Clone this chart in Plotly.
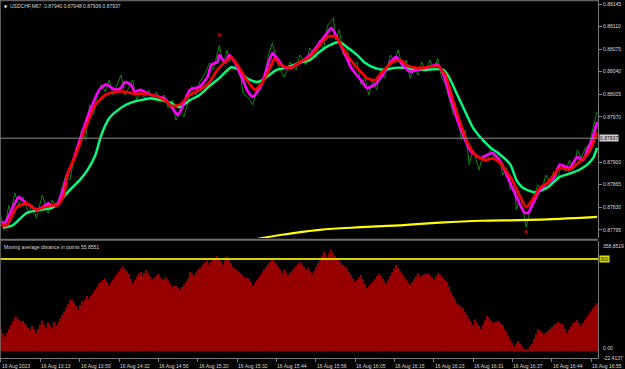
import plotly.graph_objects as go

# ---------------- data ----------------
header_text = "USDCHF,M67  0.87940 0.87948 0.87936 0.87937"
sub_title = "Moving average distance in points 55.8551"

time_labels = ["16 Aug 2023", "16 Aug 13:13", "16 Aug 13:59", "16 Aug 14:32", "16 Aug 14:56",
               "16 Aug 15:20", "16 Aug 15:32", "16 Aug 15:44", "16 Aug 15:56", "16 Aug 16:05",
               "16 Aug 16:15", "16 Aug 16:23", "16 Aug 16:31", "16 Aug 16:37", "16 Aug 16:44",
               "16 Aug 16:55"]
label_bars = [0, 20, 40, 60, 80, 100, 120, 140, 160, 180, 200, 220, 240, 260, 280, 300]

price_ticks = [0.88145, 0.88110, 0.88075, 0.88040, 0.88005, 0.87970,
               0.87900, 0.87865, 0.87830, 0.87795]
last_price = 0.87937
level_value = 300
sub_max = 358.8519
sub_min = -22.4137

close_idx = [0, 1, 2, 4, 5, 7, 9, 11, 14, 16, 18, 21, 24, 26, 28, 31, 33, 35, 37, 39, 41, 43, 45, 47,
             49, 51, 53, 55, 57, 59, 61, 63, 65, 67, 69, 71, 73, 75, 77, 79, 81, 83, 85, 87, 89, 91,
             93, 95, 97, 99, 101, 104, 106, 108, 110, 111, 113, 115, 116, 118, 120, 122, 123, 126,
             128, 130, 132, 134, 136, 138, 140, 142, 144, 147, 150, 152, 155, 157, 160, 162, 164,
             166, 169, 170, 172, 174, 176, 178, 181, 183, 185, 187, 189, 191, 193, 195, 198, 200,
             202, 204, 206, 208, 210, 212, 214, 216, 218, 220, 222, 224, 226, 228, 230, 232, 234,
             236, 238, 240, 243, 245, 247, 249, 251, 253, 255, 257, 259, 261, 262, 264, 266, 267,
             269, 270, 273, 275, 277, 279, 281, 283, 285, 287, 289, 291, 293, 295, 297, 299, 301, 303]
close_px = [0.87815, 0.87804, 0.87801, 0.87833, 0.87822, 0.87852, 0.87833, 0.87846, 0.87822, 0.87833,
            0.87813, 0.87849, 0.87821, 0.87841, 0.87829, 0.87860, 0.87880, 0.87872, 0.87903, 0.87919,
            0.87950, 0.87934, 0.87989, 0.87973, 0.88004, 0.88020, 0.88009, 0.88027, 0.88004, 0.88020,
            0.88035, 0.88004, 0.88015, 0.88027, 0.87996, 0.88009, 0.87999, 0.88012, 0.87996, 0.88009,
            0.87996, 0.88004, 0.87984, 0.87996, 0.87965, 0.87978, 0.87970, 0.87996, 0.88017, 0.88004,
            0.88024, 0.88038, 0.88054, 0.88043, 0.88069, 0.88081, 0.88051, 0.88074, 0.88055, 0.88061,
            0.88043, 0.88030, 0.88007, 0.87999, 0.87989, 0.88012, 0.88023, 0.88035, 0.88066, 0.88085,
            0.88058, 0.88043, 0.88032, 0.88055, 0.88043, 0.88066, 0.88051, 0.88077, 0.88061, 0.88089,
            0.88074, 0.88112, 0.88123, 0.88089, 0.88105, 0.88066, 0.88077, 0.88043, 0.88055, 0.88020,
            0.88030, 0.88004, 0.88027, 0.88012, 0.88043, 0.88030, 0.88066, 0.88055, 0.88074, 0.88046,
            0.88058, 0.88030, 0.88046, 0.88035, 0.88055, 0.88040, 0.88058, 0.88043, 0.88061, 0.88030,
            0.88020, 0.87996, 0.87973, 0.87981, 0.87934, 0.87950, 0.87896, 0.87919, 0.87888, 0.87911,
            0.87900, 0.87922, 0.87903, 0.87916, 0.87880, 0.87891, 0.87857, 0.87865, 0.87826, 0.87849,
            0.87818, 0.87799, 0.87826, 0.87841, 0.87865, 0.87857, 0.87880, 0.87869, 0.87885, 0.87875,
            0.87896, 0.87885, 0.87903, 0.87888, 0.87919, 0.87906, 0.87922, 0.87927, 0.87953, 0.87978]

fast_idx = [0, 2, 6, 9, 11, 13, 16, 18, 21, 24, 26, 29, 31, 34, 36, 40, 45, 50, 53, 55, 58, 61, 63, 66,
            68, 71, 74, 78, 83, 87, 90, 92, 96, 101, 105, 107, 110, 111, 114, 116, 119, 123, 125, 128,
            132, 136, 138, 141, 144, 147, 152, 157, 161, 165, 168, 171, 175, 178, 183, 186, 190, 194,
            198, 201, 204, 208, 212, 216, 219, 222, 225, 228, 232, 236, 239, 244, 247, 250, 254, 257,
            261, 264, 266, 268, 270, 274, 278, 281, 284, 289, 293, 296, 298, 300, 303]
fast_ma = [0.87807, 0.87806, 0.87830, 0.87846, 0.87841, 0.87836, 0.87830, 0.87826, 0.87830, 0.87836,
           0.87833, 0.87836, 0.87852, 0.87883, 0.87896, 0.87934, 0.87978, 0.88012, 0.88020, 0.88018,
           0.88012, 0.88015, 0.88024, 0.88020, 0.88009, 0.88012, 0.88007, 0.88003, 0.87999, 0.87984,
           0.87973, 0.87984, 0.88012, 0.88017, 0.88032, 0.88051, 0.88055, 0.88066, 0.88054, 0.88066,
           0.88054, 0.88027, 0.88012, 0.88001, 0.88017, 0.88054, 0.88069, 0.88058, 0.88047, 0.88046,
           0.88054, 0.88066, 0.88081, 0.88097, 0.88108, 0.88092, 0.88066, 0.88046, 0.88027, 0.88015,
           0.88020, 0.88035, 0.88055, 0.88063, 0.88051, 0.88040, 0.88043, 0.88046, 0.88049, 0.88051,
           0.88035, 0.88004, 0.87965, 0.87934, 0.87916, 0.87906, 0.87911, 0.87914, 0.87900, 0.87880,
           0.87853, 0.87833, 0.87822, 0.87821, 0.87833, 0.87857, 0.87868, 0.87875, 0.87896, 0.87891,
           0.87908, 0.87903, 0.87919, 0.87931, 0.87962]

mid_idx = [0, 3, 8, 13, 18, 21, 26, 29, 32, 34, 38, 43, 48, 53, 58, 63, 68, 73, 78, 83, 87, 91, 96, 101,
           106, 110, 115, 117, 121, 125, 129, 132, 137, 139, 142, 145, 148, 152, 157, 162, 166, 170,
           173, 177, 182, 186, 190, 194, 199, 203, 207, 212, 217, 222, 226, 229, 233, 237, 241, 246,
           250, 254, 257, 260, 264, 267, 270, 274, 278, 284, 289, 294, 299, 302, 303]
mid_ma = [0.87802, 0.87802, 0.87830, 0.87836, 0.87826, 0.87829, 0.87833, 0.87833, 0.87849, 0.87883,
          0.87911, 0.87953, 0.87989, 0.88004, 0.88009, 0.88009, 0.88006, 0.88006, 0.88003, 0.87996,
          0.87987, 0.87989, 0.88004, 0.88012, 0.88024, 0.88043, 0.88058, 0.88063, 0.88047, 0.88027,
          0.88012, 0.88020, 0.88047, 0.88061, 0.88051, 0.88047, 0.88047, 0.88055, 0.88063, 0.88081,
          0.88094, 0.88095, 0.88081, 0.88061, 0.88043, 0.88030, 0.88027, 0.88040, 0.88055, 0.88058,
          0.88049, 0.88046, 0.88047, 0.88049, 0.88035, 0.88004, 0.87965, 0.87931, 0.87911, 0.87903,
          0.87906, 0.87898, 0.87885, 0.87872, 0.87846, 0.87830, 0.87841, 0.87860, 0.87868, 0.87891,
          0.87888, 0.87900, 0.87916, 0.87937, 0.87946]

slow_idx = [1, 6, 13, 20, 26, 29, 35, 40, 44, 48, 51, 55, 61, 66, 71, 76, 81, 86, 91, 96, 101, 106,
            111, 117, 121, 125, 130, 133, 140, 145, 152, 157, 162, 167, 172, 176, 181, 185, 190, 195,
            200, 205, 211, 216, 221, 225, 228, 232, 236, 240, 245, 249, 254, 259, 262, 265, 269, 272,
            278, 284, 289, 294, 298, 301, 303]
slow_ma = [0.87798, 0.87802, 0.87821, 0.87826, 0.87829, 0.87836, 0.87857, 0.87872, 0.87888, 0.87911,
           0.87942, 0.87968, 0.87984, 0.87992, 0.87996, 0.87999, 0.87996, 0.87992, 0.87985, 0.87996,
           0.88004, 0.88018, 0.88030, 0.88047, 0.88043, 0.88030, 0.88024, 0.88027, 0.88043, 0.88046,
           0.88054, 0.88058, 0.88071, 0.88081, 0.88086, 0.88078, 0.88066, 0.88054, 0.88046, 0.88043,
           0.88046, 0.88046, 0.88043, 0.88043, 0.88044, 0.88043, 0.88030, 0.88004, 0.87978, 0.87953,
           0.87934, 0.87922, 0.87911, 0.87896, 0.87872, 0.87861, 0.87855, 0.87853, 0.87861, 0.87877,
           0.87882, 0.87888, 0.87896, 0.87906, 0.87922]

long_idx = [122, 127, 142, 162, 183, 203, 223, 244, 264, 284, 303]
long_ma = [0.87776, 0.87779, 0.87787, 0.87795, 0.87799, 0.87802, 0.87806, 0.87809, 0.87810, 0.87812,
           0.87815]

fractal_idx = [111, 267]
fractal_px = [0.88097, 0.87792]

hist_values = [69, 58, 47, 60, 72, 85, 98, 112, 110, 103, 97, 99, 91, 84, 76, 69, 82, 71, 60, 73,
               86, 99, 87, 75, 93, 84, 75, 95, 82, 94, 106, 118, 130, 142, 154, 166, 168, 157, 146, 136,
               150, 163, 155, 168, 180, 170, 180, 189, 199, 208, 221, 226, 232, 237, 226, 215, 224, 233, 242, 251,
               260, 269, 277, 268, 260, 251, 236, 221, 232, 243, 253, 259, 245, 255, 264, 253, 243, 232, 238, 245,
               251, 241, 232, 236, 240, 230, 220, 210, 212, 213, 206, 199, 209, 218, 228, 237, 259, 252, 245, 256,
               266, 272, 278, 284, 290, 295, 282, 290, 297, 304, 310, 300, 291, 282, 295, 308, 297, 286, 275, 270,
               264, 259, 253, 246, 240, 238, 237, 226, 215, 224, 232, 241, 250, 258, 267, 275, 283, 291, 299, 292,
               286, 275, 265, 254, 264, 256, 248, 256, 263, 271, 278, 286, 291, 282, 274, 265, 270, 260, 251, 263,
               275, 287, 299, 312, 324, 316, 308, 319, 330, 321, 312, 303, 296, 288, 281, 276, 270, 259, 248, 237,
               226, 233, 241, 248, 234, 219, 205, 212, 219, 226, 235, 244, 253, 245, 237, 229, 221, 233, 245, 257,
               269, 281, 271, 261, 252, 242, 232, 224, 216, 225, 235, 244, 253, 243, 247, 250, 252, 253, 246, 239,
               232, 244, 255, 249, 243, 238, 232, 226, 210, 194, 181, 169, 156, 151, 145, 140, 129, 118, 107, 96,
               85, 104, 93, 83, 72, 86, 101, 115, 108, 100, 93, 94, 96, 97, 91, 85, 73, 62, 50, 38,
               27, 15, 24, 33, 24, 15, 8, 2, 8, 17, 25, 41, 56, 72, 66, 61, 55, 61, 66, 72,
               79, 85, 90, 95, 92, 88, 85, 73, 60, 70, 80, 91, 96, 101, 92, 82, 92, 102, 112, 121,
               130, 139, 147, 156]

# ---------------- figure ----------------
FONT = "Liberation Sans"
TXT = "#D8D8D8"
GRID = "#7A7A7A"
n_bars = len(hist_values)

fig = go.Figure()

fig.add_trace(go.Bar(x=list(range(n_bars)), y=hist_values, yaxis="y2", xaxis="x",
                     marker=dict(color="#960000", line=dict(width=0)), hoverinfo="skip"))

fig.add_trace(go.Scatter(x=close_idx, y=close_px, mode="lines", yaxis="y",
                         line=dict(color="#0A8A0A", width=1)))
fig.add_trace(go.Scatter(x=slow_idx, y=slow_ma, mode="lines", yaxis="y",
                         line=dict(color="#00FF7F", width=2.4, shape="spline", smoothing=0.6)))
fig.add_trace(go.Scatter(x=fast_idx, y=fast_ma, mode="lines", yaxis="y",
                         line=dict(color="#FF00FF", width=2.6, shape="spline", smoothing=0.5)))
fig.add_trace(go.Scatter(x=mid_idx, y=mid_ma, mode="lines", yaxis="y",
                         line=dict(color="#FF0000", width=2.6, shape="spline", smoothing=0.5)))
fig.add_trace(go.Scatter(x=long_idx, y=long_ma, mode="lines", yaxis="y",
                         line=dict(color="#FFFF00", width=2.2, shape="spline")))
fig.add_trace(go.Scatter(x=fractal_idx, y=fractal_px, mode="markers", yaxis="y",
                         marker=dict(color="#C00000", size=3, symbol="square")))

main_top = 0.881512
main_bottom = 0.877823
d_split_hi = 0.3352
d_split_lo = 0.3268

fig.update_layout(
    width=625, height=369,
    margin=dict(l=0, r=27, t=0, b=11),
    paper_bgcolor="#000000", plot_bgcolor="#000000",
    showlegend=False, hovermode=False, bargap=0.4,
    font=dict(family=FONT, size=5, color=TXT),
    xaxis=dict(domain=[0, 1], range=[-0.5, n_bars - 0.5], anchor="y2",
               tickvals=label_bars, showticklabels=False, ticks="outside", ticklen=3,
               tickcolor=GRID, showgrid=False, zeroline=False, showline=True,
               linecolor=GRID, linewidth=1),
    yaxis=dict(domain=[d_split_hi, 1], range=[main_bottom, main_top], side="right",
               anchor="x", tickvals=price_ticks, ticktext=[f"{v:.5f}" for v in price_ticks],
               ticks="outside", ticklen=3, tickcolor=GRID, tickfont=dict(size=5, color=TXT),
               showgrid=False, zeroline=False, showline=True, linecolor=GRID, linewidth=1),
    yaxis2=dict(domain=[0, d_split_lo], range=[sub_min, sub_max], side="right", anchor="x",
                tickvals=[], showgrid=False, zeroline=False, showline=True,
                linecolor=GRID, linewidth=1),
)

shapes = [
    dict(type="line", xref="paper", yref="y", x0=0, x1=1, y0=last_price, y1=last_price,
         line=dict(color="#8C8C8C", width=1)),
    dict(type="line", xref="paper", yref="y2", x0=0, x1=1, y0=level_value, y1=level_value,
         line=dict(color="#D4D400", width=2)),
    dict(type="rect", xref="paper", yref="paper", x0=0, x1=1, y0=d_split_lo + 0.001,
         y1=d_split_hi - 0.002, line=dict(width=0), fillcolor="#6E6E6E"),
    dict(type="line", xref="paper", yref="paper", x0=0, x1=0, y0=0, y1=1,
         line=dict(color=GRID, width=1.5)),
    dict(type="line", xref="paper", yref="paper", x0=0, x1=1, y0=0.998, y1=0.998,
         line=dict(color=GRID, width=1)),
]
fig.update_layout(shapes=shapes)

ann = []
for b, t in zip(label_bars, time_labels):
    ann.append(dict(x=b, xref="x", y=0, yref="paper", text=t, showarrow=False,
                    xanchor="left", yanchor="top", xshift=-1, yshift=-3,
                    font=dict(size=5, color=TXT, family=FONT)))
ann.append(dict(x=0, xref="paper", y=1, yref="paper", text="▼", showarrow=False,
                xanchor="left", yanchor="top", xshift=2, yshift=-2,
                font=dict(size=4, color="#FFFFFF", family="DejaVu Sans")))
ann.append(dict(x=0, xref="paper", y=1, yref="paper", text=header_text, showarrow=False,
                xanchor="left", yanchor="top", xshift=8, yshift=-1,
                font=dict(size=5, color=TXT, family=FONT)))
ann.append(dict(x=0, xref="paper", y=d_split_lo, yref="paper", text=sub_title, showarrow=False,
                xanchor="left", yanchor="top", xshift=2, yshift=-1,
                font=dict(size=5, color=TXT, family=FONT)))
ann.append(dict(x=1, xref="paper", y=last_price, yref="y", text=f"{last_price:.5f}",
                showarrow=False, xanchor="left", yanchor="middle", xshift=1,
                bgcolor="#D0D0D0", borderpad=0, font=dict(size=5, color="#000000", family=FONT)))
ann.append(dict(x=1, xref="paper", y=level_value, yref="y2", text=str(level_value),
                showarrow=False, xanchor="left", yanchor="middle", xshift=1,
                bgcolor="#E0E000", borderpad=0, font=dict(size=5, color="#000000", family=FONT)))
ann.append(dict(x=1, xref="paper", y=sub_max, yref="y2", text=f"{sub_max:.4f}",
                showarrow=False, xanchor="left", yanchor="top", xshift=3,
                font=dict(size=5, color=TXT, family=FONT)))
ann.append(dict(x=1, xref="paper", y=0, yref="y2", text="0.00",
                showarrow=False, xanchor="left", yanchor="bottom", xshift=3, yshift=-2,
                font=dict(size=5, color=TXT, family=FONT)))
ann.append(dict(x=1, xref="paper", y=sub_min, yref="y2", text=f"{sub_min:.4f}",
                showarrow=False, xanchor="left", yanchor="top", xshift=3, yshift=5,
                font=dict(size=5, color=TXT, family=FONT)))
fig.update_layout(annotations=ann)

fig.write_html("out.html")
